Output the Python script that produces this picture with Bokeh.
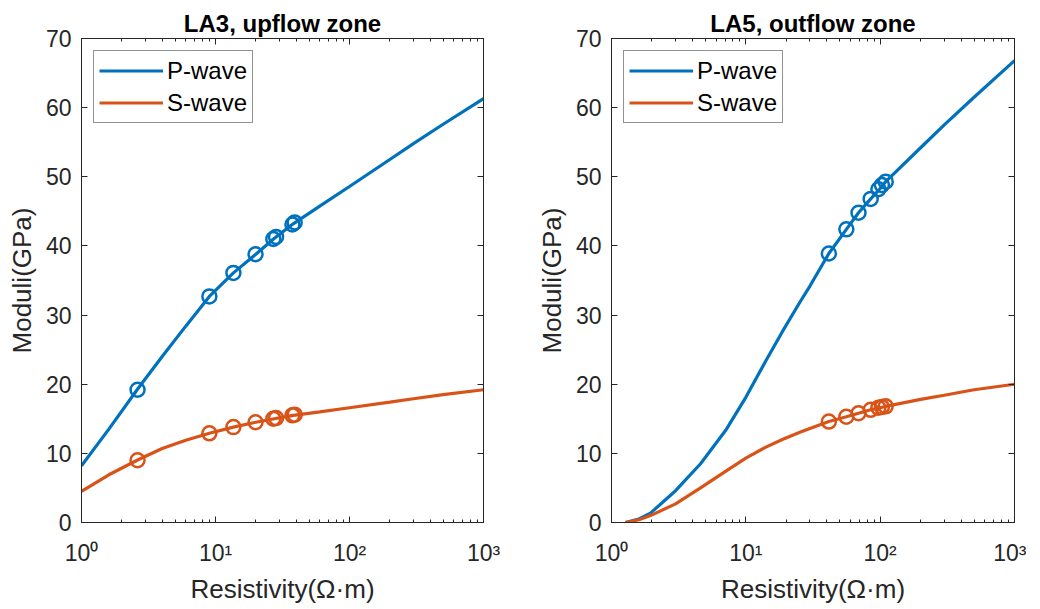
from bokeh.plotting import figure
from bokeh.models import LogAxis, LinearAxis, FixedTicker, Range1d
from bokeh.layouts import row
from bokeh.embed import file_html
from bokeh.resources import INLINE

# ---------------- data ----------------
titles = ["LA3, upflow zone", "LA5, outflow zone"]
series_names = ["P-wave", "S-wave"]
x_ticks = [1, 10, 100, 1000]
x_tick_labels = ["10\u2070", "10\u00b9", "10\u00b2", "10\u00b3"]
y_ticks = [0, 10, 20, 30, 40, 50, 60, 70]

# LA3 curves
la3_x = [1, 1.6, 2.6, 4, 6, 9, 13.6, 20, 27.5, 38, 60, 100, 200, 300, 500, 1000]
la3_p = [8.2, 13.5, 19.2, 24.0, 28.4, 32.7, 36.1, 38.8, 41.1, 43.2, 45.75, 48.6, 52.5, 54.8, 57.6, 61.3]
la3_s = [4.5, 6.9, 9.0, 10.7, 11.9, 12.9, 13.8, 14.5, 15.0, 15.5, 16.0, 16.6, 17.4, 17.9, 18.5, 19.2]
# LA3 measured points
la3_mx = [2.62, 9.0, 13.6, 19.9, 27.0, 28.3, 37.5, 39.0]
la3_mp = [19.2, 32.7, 36.1, 38.8, 41.0, 41.3, 43.1, 43.4]
la3_ms = [9.0, 12.9, 13.8, 14.5, 15.0, 15.1, 15.5, 15.6]

# LA5 curves
la5_x = [1.27, 1.6, 1.95, 3, 4.6, 7.06, 10, 14.1, 18.7, 25.5, 30, 41.5, 56, 69, 85, 100, 110, 200, 300, 500, 1000]
la5_p = [0.0, 0.5, 1.35, 4.6, 8.5, 13.3, 18.1, 23.4, 27.6, 32.0, 34.2, 38.9, 42.4, 44.8, 46.8, 48.3, 49.3, 54.2, 57.5, 61.5, 66.8]
la5_s = [0.0, 0.4, 1.0, 2.7, 5.0, 7.4, 9.3, 10.9, 12.0, 13.1, 13.6, 14.6, 15.3, 15.8, 16.3, 16.6, 16.8, 17.8, 18.4, 19.2, 20.0]
# LA5 measured points
la5_mx = [41.5, 56, 69, 85, 97, 103, 110]
la5_mp = [38.9, 42.4, 44.8, 46.8, 48.2, 48.8, 49.3]
la5_ms = [14.6, 15.3, 15.8, 16.3, 16.6, 16.7, 16.8]

# ---------------- style ----------------
BLUE = "#0072BD"
ORANGE = "#D95319"
AX = "#262626"
FONT = "Liberation Sans"

minor = [m * d for d in (1, 10, 100) for m in range(2, 10)]


def make(title, cx, cp, cs, mx, mp, ms, width, bl, br):
    p = figure(width=width, height=606, x_axis_type="log",
               x_range=Range1d(1, 1000), y_range=Range1d(0, 70),
               output_backend="svg", toolbar_location=None,
               min_border_left=bl, min_border_right=br,
               min_border_top=38, min_border_bottom=84)
    p.grid.visible = False
    p.outline_line_color = AX
    p.outline_line_width = 1
    p.background_fill_color = "white"
    p.border_fill_color = "white"

    p.title.text = title
    p.title.align = "center"
    p.title.text_font = FONT
    p.title.text_font_size = "24px"
    p.title.text_font_style = "bold"
    p.title.text_color = "black"
    p.title.offset = 0
    p.title.standoff = 4

    xt = FixedTicker(ticks=x_ticks, minor_ticks=minor)
    yt = FixedTicker(ticks=y_ticks, minor_ticks=[])

    xa = p.xaxis[0]
    xa.ticker = xt
    xa.major_label_overrides = dict(zip(x_ticks, x_tick_labels))
    xa.axis_label = "Resistivity(\u03a9\u00b7m)"

    ya = p.yaxis[0]
    ya.ticker = yt
    ya.axis_label = "Moduli(GPa)"

    for a in (xa, ya):
        a.axis_line_color = AX
        a.major_tick_line_color = AX
        a.minor_tick_line_color = AX
        a.major_tick_in = 6
        a.major_tick_out = 0
        a.minor_tick_in = 3
        a.minor_tick_out = 0
        a.major_label_text_font = FONT
        a.major_label_text_font_size = "23px"
        a.major_label_text_color = AX
        a.axis_label_text_font = FONT
        a.axis_label_text_font_size = "26px"
        a.axis_label_text_font_style = "normal"
        a.axis_label_text_color = AX
    xa.major_label_standoff = 17
    xa.axis_label_standoff = 5
    ya.major_label_standoff = 10
    ya.axis_label_standoff = 6

    top = LogAxis(ticker=xt, major_label_text_font_size="1px",
                  major_label_text_color=None,
                  major_label_standoff=0, axis_line_color=AX,
                  major_tick_in=6, major_tick_out=0, minor_tick_in=3, minor_tick_out=0,
                  major_tick_line_color=AX, minor_tick_line_color=AX)
    right = LinearAxis(ticker=yt, major_label_text_font_size="1px",
                       major_label_text_color=None,
                       major_label_standoff=0, axis_line_color=AX,
                       major_tick_in=6, major_tick_out=0,
                       major_tick_line_color=AX, minor_tick_line_color=None)
    p.add_layout(top, "above")
    p.add_layout(right, "right")

    p.line(cx, cp, line_color=BLUE, line_width=3.2, legend_label=series_names[0])
    p.line(cx, cs, line_color=ORANGE, line_width=3.2, legend_label=series_names[1])
    p.scatter(mx, mp, marker="circle", size=14, fill_color=None,
              line_color=BLUE, line_width=2.5)
    p.scatter(mx, ms, marker="circle", size=14, fill_color=None,
              line_color=ORANGE, line_width=2.5)

    lg = p.legend[0]
    lg.location = "top_left"
    lg.margin = 12
    lg.padding = 5
    lg.spacing = 3
    lg.glyph_width = 64
    lg.glyph_height = 29
    lg.label_height = 29
    lg.label_standoff = 4
    lg.label_text_font = FONT
    lg.label_text_font_size = "24px"
    lg.label_text_color = "black"
    lg.border_line_color = AX
    lg.border_line_width = 1
    lg.background_fill_color = "white"
    lg.background_fill_alpha = 1
    return p


p1 = make(titles[0], la3_x, la3_p, la3_s, la3_mx, la3_mp, la3_ms, 533, 81, 50)
p2 = make(titles[1], la5_x, la5_p, la5_s, la5_mx, la5_mp, la5_ms, 493, 78, 12)

layout = row(p1, p2)
open("out.html", "w").write(file_html(layout, INLINE))
